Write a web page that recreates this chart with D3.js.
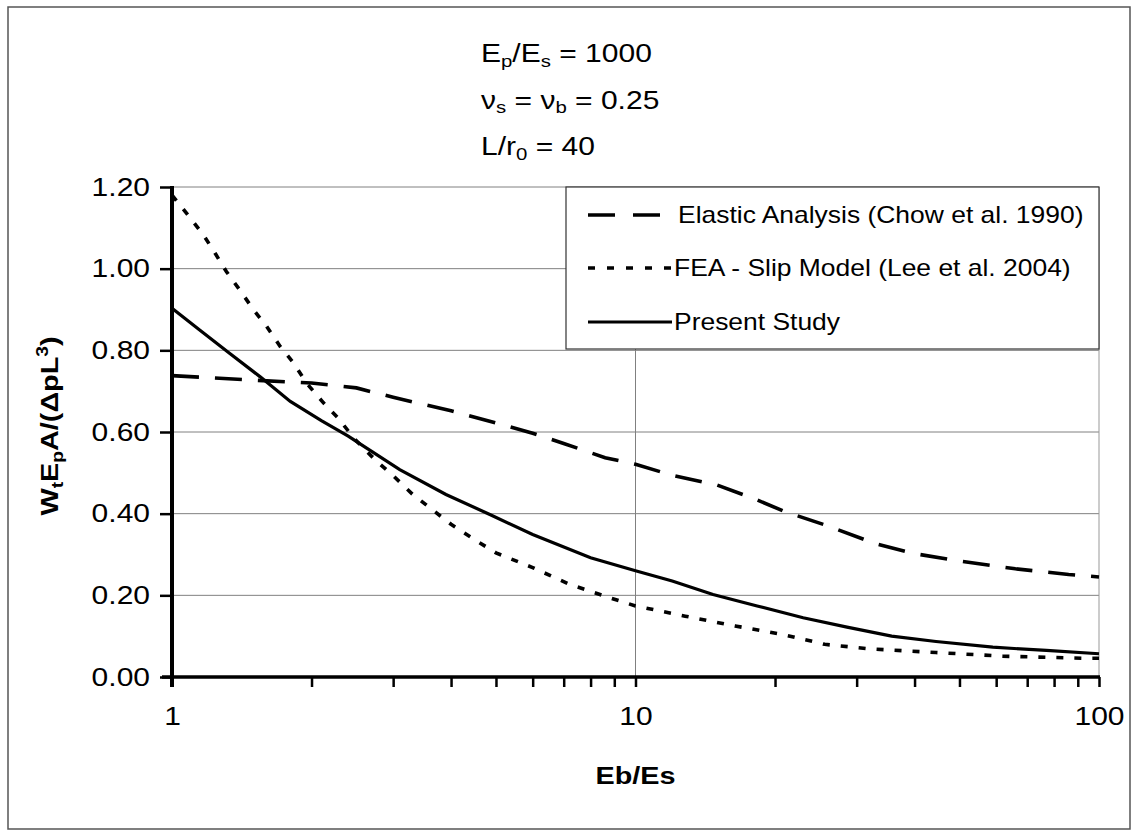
<!DOCTYPE html>
<html>
<head>
<meta charset="utf-8">
<script src="https://cdn.jsdelivr.net/npm/d3@7"></script>
<style>
  html, body { margin: 0; padding: 0; background: #fff; }
  svg { display: block; font-family: "Liberation Sans", Arial, Helvetica, sans-serif; }
</style>
</head>
<body>
<svg id="chart" width="1134" height="836"></svg>
<script>
// ---- data ----
const seriesNames = ["Elastic Analysis (Chow et al. 1990)", "FEA - Slip Model (Lee et al. 2004)", "Present Study"];

const elasticX = [1, 1.2, 1.5, 2, 2.5, 3, 4, 5, 6, 7, 8.6, 10, 12, 15, 18, 21, 26, 33, 40, 50, 66, 86, 100];
const elasticY = [0.738, 0.733, 0.727, 0.72, 0.708, 0.685, 0.652, 0.622, 0.597, 0.572, 0.537, 0.521, 0.494, 0.47, 0.437, 0.405, 0.37, 0.326, 0.302, 0.284, 0.265, 0.251, 0.245];

const feaX = [1, 1.09, 1.17, 1.24, 1.31, 1.4, 1.5, 1.6, 1.71, 1.83, 1.95, 2.12, 2.28, 2.48, 2.76, 3.0, 3.3, 4, 4.43, 5, 6, 7.2, 8.8, 10, 12.8, 16.4, 21, 25.6, 32, 44.5, 62, 92, 100];
const feaY = [1.18, 1.127, 1.082, 1.037, 0.993, 0.948, 0.899, 0.859, 0.81, 0.769, 0.72, 0.672, 0.635, 0.582, 0.529, 0.493, 0.448, 0.374, 0.341, 0.304, 0.268, 0.227, 0.194, 0.174, 0.149, 0.125, 0.103, 0.08, 0.069, 0.06, 0.051, 0.046, 0.046];

const presentX = [1, 1.14, 1.32, 1.55, 1.8, 2.1, 2.4, 2.65, 3.1, 3.9, 4.85, 6, 8, 10, 12, 14.7, 18.3, 23, 28.6, 35.7, 44.5, 59, 77, 100];
const presentY = [0.903, 0.852, 0.796, 0.735, 0.675, 0.628, 0.59, 0.558, 0.508, 0.447, 0.398, 0.349, 0.292, 0.26, 0.235, 0.202, 0.174, 0.145, 0.122, 0.1, 0.087, 0.073, 0.065, 0.057];

const xTickValues = [1,2,3,4,5,6,7,8,9,10,20,30,40,50,60,70,80,90,100];
const xTickLabels = {1: "1", 10: "10", 100: "100"};
const yTickValues = [0, 0.2, 0.4, 0.6, 0.8, 1.0, 1.2];
const yTickLabels = ["0.00", "0.20", "0.40", "0.60", "0.80", "1.00", "1.20"];
const xGridValues = [10];

// ---- layout ----
const svg = d3.select("#chart");
const L = 172, R = 1099, T = 187, B = 677;
const SX = 1.2; // horizontal stretch of the lettering in the original
const x = d3.scaleLog().domain([1, 100]).range([L, R]);
const y = d3.scaleLinear().domain([0, 1.2]).range([B, T]);

// outer frame
svg.append("rect").attr("x", 8).attr("y", 7).attr("width", 1122).attr("height", 822)
  .attr("fill", "none").attr("stroke", "#555").attr("stroke-width", 1.5);

// gridlines
svg.append("g").selectAll("line").data(yTickValues.filter(v => v > 0)).join("line")
  .attr("x1", L).attr("x2", R).attr("y1", d => y(d)).attr("y2", d => y(d))
  .attr("stroke", "#808080").attr("stroke-width", 1);
svg.append("g").selectAll("line").data(xGridValues).join("line")
  .attr("x1", d => x(d)).attr("x2", d => x(d)).attr("y1", T).attr("y2", B)
  .attr("stroke", "#808080").attr("stroke-width", 1);
svg.append("line").attr("x1", R).attr("x2", R).attr("y1", T).attr("y2", B)
  .attr("stroke", "#999").attr("stroke-width", 1);

// series
const styles = [
  {xs: elasticX, ys: elasticY, dash: "27,16", w: 3.6, lx2: 660, ldash: "27,18", tx: 678},
  {xs: feaX, ys: feaY, dash: "7,11", w: 3.6, lx2: 672, ldash: "7,12", tx: 674},
  {xs: presentX, ys: presentY, dash: null, w: 3.2, lx2: 672, ldash: null, tx: 674}
];
const line = d3.line().x(d => x(d[0])).y(d => y(d[1]));
styles.forEach(s => {
  const pts = s.xs.map((v, i) => [v, s.ys[i]]);
  svg.append("path").datum(pts).attr("d", line)
    .attr("fill", "none").attr("stroke", "#000").attr("stroke-width", s.w)
    .attr("stroke-dasharray", s.dash);
});

// x axis
const xAxis = d3.axisBottom(x).tickValues(xTickValues).tickSize(10).tickPadding(20)
  .tickFormat(d => xTickLabels[d] || "");
const gx = svg.append("g").attr("transform", `translate(0,${B})`).call(xAxis);
gx.select(".domain").remove();
gx.selectAll(".tick line").attr("stroke", "#000").attr("stroke-width", 2.5);
gx.selectAll(".tick text").attr("font-size", 25).attr("fill", "#000")
  .attr("font-family", "Liberation Sans, Arial, sans-serif")
  .attr("transform", `scale(${SX},1)`);
svg.append("line").attr("x1", L - 10).attr("x2", R + 1).attr("y1", B).attr("y2", B)
  .attr("stroke", "#000").attr("stroke-width", 3.5);

// y axis
const yAxis = d3.axisLeft(y).tickValues(yTickValues).tickSize(12).tickPadding(12)
  .tickFormat((d, i) => yTickLabels[i]);
const gy = svg.append("g").attr("transform", `translate(${L},0)`).call(yAxis);
gy.select(".domain").remove();
gy.selectAll(".tick line").attr("stroke", "#000").attr("stroke-width", 2.5);
gy.selectAll(".tick text").attr("font-size", 25).attr("fill", "#000")
  .attr("font-family", "Liberation Sans, Arial, sans-serif")
  .attr("x", -22 / SX).attr("transform", `scale(${SX},1)`);
svg.append("line").attr("x1", L).attr("x2", L).attr("y1", T - 1).attr("y2", B + 10)
  .attr("stroke", "#000").attr("stroke-width", 4);

// axis titles
svg.append("text").attr("transform", `translate(${(L + R) / 2},784) scale(${SX},1)`)
  .attr("text-anchor", "middle").attr("font-size", 24).attr("font-weight", "bold").text("Eb/Es");

const yt = svg.append("text").attr("transform", `translate(58,426) rotate(-90) scale(${SX},1)`)
  .attr("text-anchor", "middle").attr("font-size", 24).attr("font-weight", "bold");
yt.append("tspan").text("W");
yt.append("tspan").attr("font-size", 16).attr("dy", 5).text("t");
yt.append("tspan").attr("dy", -5).text("E");
yt.append("tspan").attr("font-size", 16).attr("dy", 5).text("p");
yt.append("tspan").attr("dy", -5).text("A/(ΔpL");
yt.append("tspan").attr("font-size", 16).attr("dy", -10).text("3");
yt.append("tspan").attr("dy", 10).text(")");

// annotations
const ann = svg.append("g").attr("font-size", 25).attr("fill", "#000");
const a1 = ann.append("text").attr("transform", `translate(481,62) scale(${SX},1)`);
a1.append("tspan").text("E");
a1.append("tspan").attr("font-size", 17).attr("dy", 5).text("p");
a1.append("tspan").attr("dy", -5).text("/E");
a1.append("tspan").attr("font-size", 17).attr("dy", 5).text("s");
a1.append("tspan").attr("dy", -5).text(" = 1000");
const a2 = ann.append("text").attr("transform", `translate(481,109) scale(${SX},1)`);
a2.append("tspan").text("ν");
a2.append("tspan").attr("font-size", 17).attr("dy", 4).text("s");
a2.append("tspan").attr("dy", -4).text(" = ν");
a2.append("tspan").attr("font-size", 17).attr("dy", 4).text("b");
a2.append("tspan").attr("dy", -4).text(" = 0.25");
const a3 = ann.append("text").attr("transform", `translate(481,155) scale(${SX},1)`);
a3.append("tspan").text("L/r");
a3.append("tspan").attr("font-size", 17).attr("dy", 5).text("0");
a3.append("tspan").attr("dy", -5).text(" = 40");

// legend
const lg = svg.append("g");
lg.append("rect").attr("x", 566).attr("y", T).attr("width", R - 566).attr("height", 349 - T)
  .attr("fill", "#fff").attr("stroke", "#333").attr("stroke-width", 1.2);
const rowsY = [215, 268, 322];
styles.forEach((s, i) => {
  lg.append("line").attr("x1", 588).attr("x2", s.lx2).attr("y1", rowsY[i]).attr("y2", rowsY[i])
    .attr("stroke", "#000").attr("stroke-width", s.w).attr("stroke-dasharray", s.ldash);
  lg.append("text").attr("transform", `translate(${s.tx},${rowsY[i]}) scale(1.15,1)`)
    .attr("dy", "0.35em").attr("font-size", 23).text(seriesNames[i]);
});
</script>
</body>
</html>
